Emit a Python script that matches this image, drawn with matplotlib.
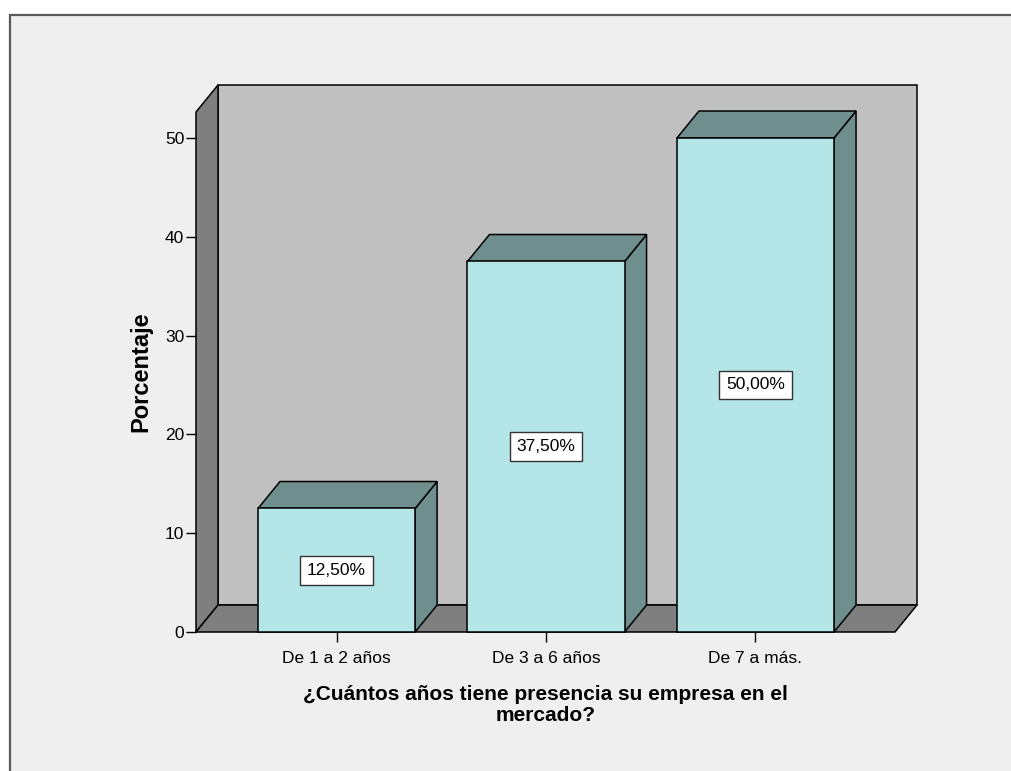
import numpy as np
import matplotlib.pyplot as plt
from matplotlib.patches import Polygon, Rectangle

plt.rcParams['font.family'] = ['Liberation Sans', 'DejaVu Sans']

categorias = ['De 1 a 2 años', 'De 3 a 6 años', 'De 7 a más.']
porcentajes = [12.5, 37.5, 50.0]
etiquetas = ['12,50%', '37,50%', '50,00%']
yticks = [0, 10, 20, 30, 40, 50]

# colours of the 3D box
fondo = '#efefef'
pared_fondo = '#c0c0c0'
pared_lado = '#7f7f7f'
cara_frente = '#b4e6e8'
cara_oscura = '#6f8f8e'

fig = plt.figure(figsize=(10.12, 7.71), dpi=100)
fig.patch.set_facecolor('white')
# outer frame of the chart window
fig.patches.append(Rectangle((10 / 1012, -0.02), 1.1, (771 - 15) / 771 + 0.02,
                             transform=fig.transFigure, facecolor=fondo,
                             edgecolor='#5a5a5a', linewidth=1.6, zorder=-10))

ax = fig.add_axes([196 / 1012, (771 - 632) / 771, (895 - 196) / 1012, (632 - 112) / 771])
ax.set_facecolor('none')
x0, x1 = -0.671, 2.666
y0, y1 = 0, 52.63
ax.set_xlim(x0, x1)
ax.set_ylim(y0, y1)
for s in ax.spines.values():
    s.set_visible(False)

# depth offset in data units
dx, dy = 0.105, 2.73
lw = 1.1
kw = dict(edgecolor='black', linewidth=lw, clip_on=False, joinstyle='miter')

# back wall, left wall, floor
ax.add_patch(Polygon([(x0 + dx, y0 + dy), (x1 + dx, y0 + dy), (x1 + dx, y1 + dy), (x0 + dx, y1 + dy)],
                     facecolor=pared_fondo, **kw))
ax.add_patch(Polygon([(x0, y0), (x0 + dx, y0 + dy), (x0 + dx, y1 + dy), (x0, y1)],
                     facecolor=pared_lado, **kw))
ax.add_patch(Polygon([(x0, y0), (x1, y0), (x1 + dx, y0 + dy), (x0 + dx, y0 + dy)],
                     facecolor=pared_lado, **kw))

pos = np.arange(len(categorias))
w = 0.375
for xi, v, lab in zip(pos, porcentajes, etiquetas):
    a, b = xi - w, xi + w
    ax.add_patch(Polygon([(b, 0), (b + dx, dy), (b + dx, v + dy), (b, v)], facecolor=cara_oscura, **kw))
    ax.add_patch(Polygon([(a, v), (b, v), (b + dx, v + dy), (a + dx, v + dy)], facecolor=cara_oscura, **kw))
    ax.add_patch(Polygon([(a, 0), (b, 0), (b, v), (a, v)], facecolor=cara_frente, **kw))
    ax.text(xi, v / 2, lab, ha='center', va='center', fontsize=12.5,
            bbox=dict(boxstyle='square,pad=0.4', facecolor='white', edgecolor='#333333', linewidth=1))

ax.set_xticks(pos)
ax.set_xticklabels(categorias, fontsize=12.5)
ax.set_yticks(yticks)
ax.set_yticklabels([str(t) for t in yticks], fontsize=12.5)
ax.tick_params(axis='both', direction='out', length=7.5, width=1, color='black')
ax.tick_params(axis='x', pad=6)
ax.tick_params(axis='y', pad=1)

ax.set_ylabel('Porcentaje', fontsize=17, fontweight='bold', labelpad=9)
ax.set_xlabel('¿Cuántos años tiene presencia su empresa en el\nmercado?',
              fontsize=15, fontweight='bold', labelpad=14, linespacing=1.15)

fig.savefig('out.png', dpi=100)
